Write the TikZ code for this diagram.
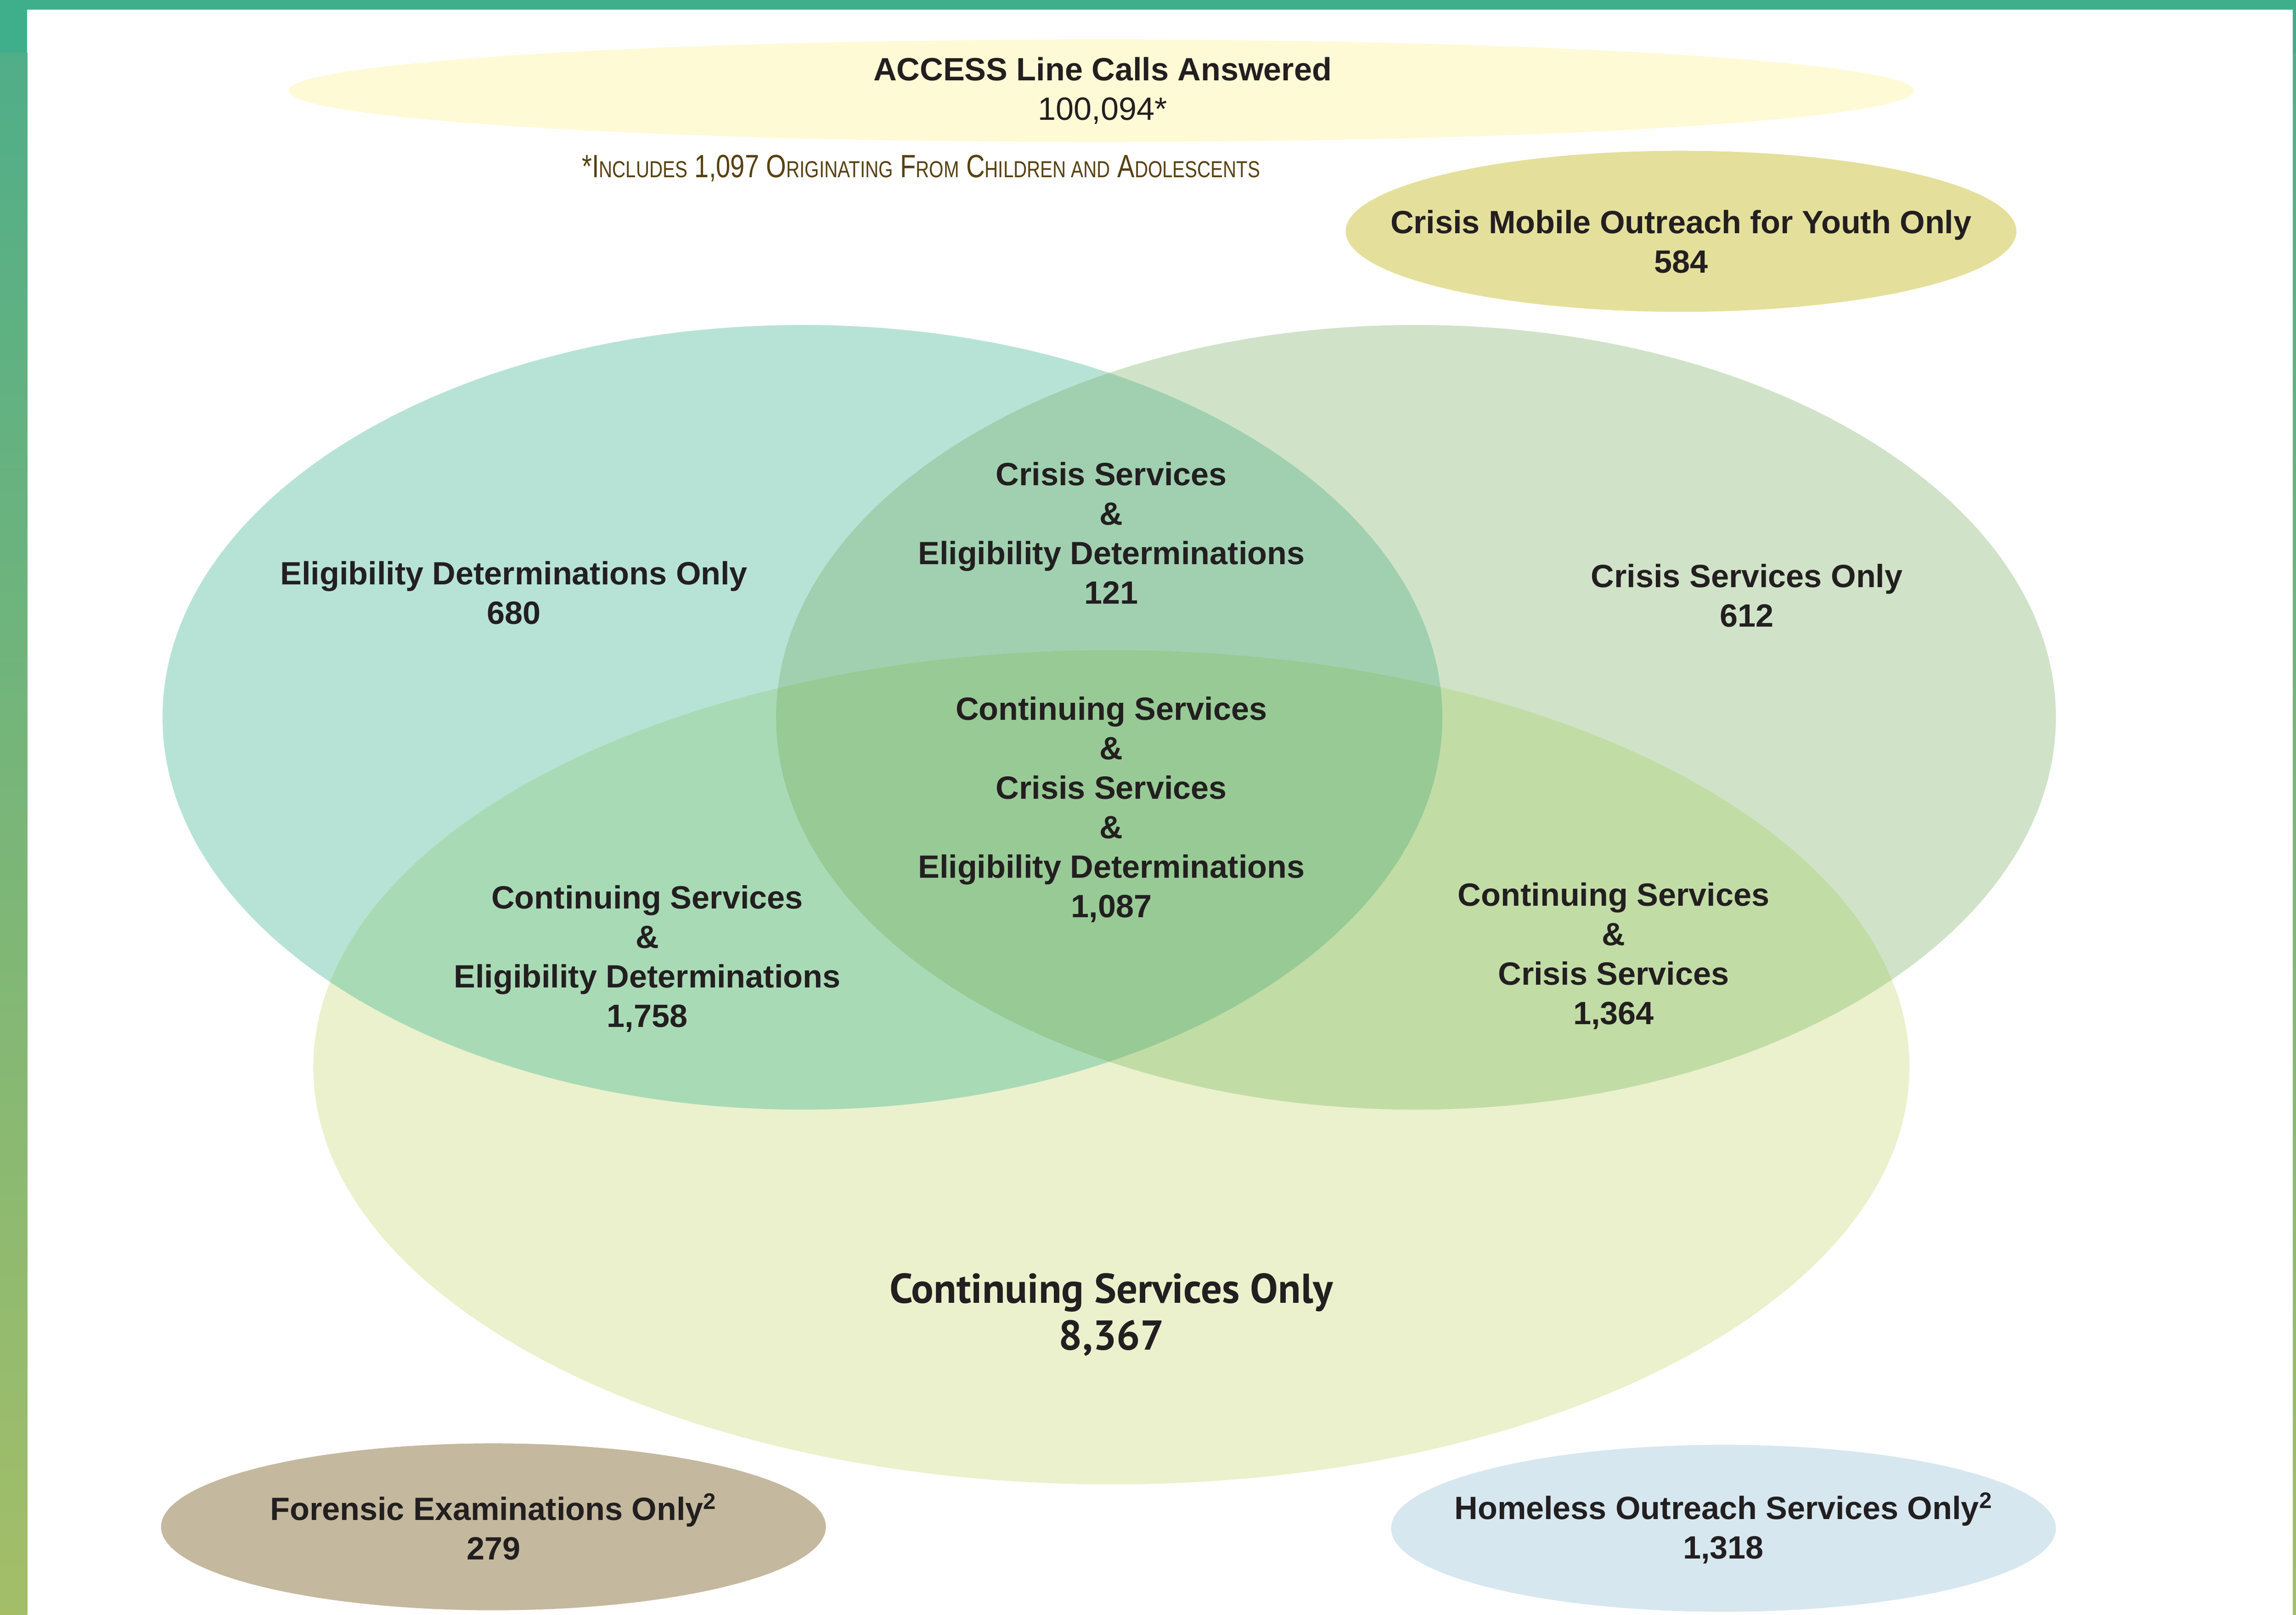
\documentclass[tikz,border=0pt]{standalone}
\usepackage{fontspec}
\setmainfont{Liberation Sans}
\newfontfamily\myriadish{PT Sans}
\newfontfamily\notefont[FakeStretch=0.8]{Liberation Sans}
\usetikzlibrary{positioning}

\definecolor{barTop}{HTML}{3EAE8B}
\definecolor{barMid}{HTML}{50AE88}
\definecolor{barLow}{HTML}{A4BE68}
\definecolor{ink}{HTML}{231F20}
\definecolor{noteInk}{HTML}{574112}
\definecolor{accessCol}{HTML}{FEFAD6}
\definecolor{mobileCol}{HTML}{E4E09C}
\definecolor{forensicCol}{HTML}{C4B89E}
\definecolor{homelessCol}{HTML}{D6E7EF}
\definecolor{eligCol}{HTML}{B7E3D6}
\definecolor{crisCol}{HTML}{D0E3C8}
\definecolor{contCol}{HTML}{EBF1CC}
\definecolor{ecCol}{HTML}{A0D0B0}
\definecolor{ekCol}{HTML}{A9DAB6}
\definecolor{ckCol}{HTML}{C2DCA6}
\definecolor{allCol}{HTML}{98CA96}

\tikzset{
  lbl/.style={font=\fontsize{22}{27}\selectfont\bfseries, align=center, text=ink},
  bigLbl/.style={font=\myriadish\fontsize{28.5}{32}\selectfont\bfseries, align=center, text=ink},
  noteLbl/.style={font=\notefont\fontsize{22}{24}\selectfont, text=noteInk},
}
\newcommand\smcap[1]{{\fontsize{15.8}{16}\selectfont #1}}

\begin{document}
\begin{tikzpicture}[x=1pt, y=-1pt]

  \newcommand\RxA{437pt}
  \newcommand\RyA{268pt}
  \newcommand\RxK{545pt}
  \newcommand\RyK{285pt}

  \useasboundingbox (0,0) rectangle (1568,1103);
  \fill[white] (0,0) rectangle (1568,1103);

  %% frame
  \shade[top color=barMid, bottom color=barLow] (0,36) rectangle (18.6,1103);
  \shade[top color=barMid, bottom color=barLow] (1565.8,36) rectangle (1568,1103);
  \fill[barTop] (0,0) rectangle (1568,6.5);
  \fill[barTop] (0,0) rectangle (18.6,36);
  \fill[barTop] (1565.8,0) rectangle (1568,36);

  %% centres
  \coordinate (eligC) at (548,490);
  \coordinate (crisC) at (967,490);
  \coordinate (contC) at (759,729);

  %% the three sets
  \fill[eligCol] (eligC) ellipse [x radius=\RxA, y radius=\RyA];
  \fill[crisCol] (crisC) ellipse [x radius=\RxA, y radius=\RyA];
  \fill[contCol] (contC) ellipse [x radius=\RxK, y radius=\RyK];
  \begin{scope} % E & C
    \clip (eligC) ellipse [x radius=\RxA, y radius=\RyA];
    \fill[ecCol] (crisC) ellipse [x radius=\RxA, y radius=\RyA];
  \end{scope}
  \begin{scope} % E & K
    \clip (eligC) ellipse [x radius=\RxA, y radius=\RyA];
    \fill[ekCol] (contC) ellipse [x radius=\RxK, y radius=\RyK];
  \end{scope}
  \begin{scope} % C & K
    \clip (crisC) ellipse [x radius=\RxA, y radius=\RyA];
    \fill[ckCol] (contC) ellipse [x radius=\RxK, y radius=\RyK];
  \end{scope}
  \begin{scope} % E & C & K
    \clip (eligC) ellipse [x radius=\RxA, y radius=\RyA];
    \clip (crisC) ellipse [x radius=\RxA, y radius=\RyA];
    \fill[allCol] (contC) ellipse [x radius=\RxK, y radius=\RyK];
  \end{scope}

  %% the other ovals
  \fill[accessCol] (752,62) ellipse [x radius=555pt, y radius=35pt];
  \fill[mobileCol] (1148,158) ellipse [x radius=229pt, y radius=55pt];
  \fill[forensicCol] (337,1043) ellipse [x radius=227pt, y radius=57pt];
  \fill[homelessCol] (1177,1044) ellipse [x radius=227pt, y radius=57pt];

  %% labels
  \node[lbl] (access) at (753,62) {ACCESS Line Calls Answered\\\mdseries 100,094*};
  \node[noteLbl] (note) at (629,115) {*I\smcap{NCLUDES} 1,097 O\smcap{RIGINATING} F\smcap{ROM} C\smcap{HILDREN AND} A\smcap{DOLESCENTS}};
  \node[lbl] (mobile) at (1148,165) {Crisis Mobile Outreach for Youth Only\\584};

  \node[lbl] (eligOnly) at (351,405) {Eligibility Determinations Only\\680};
  \node[lbl] (crisOnly) at (1193,407) {Crisis Services Only\\612};
  \node[lbl] (ecBoth) at (759,364) {Crisis Services\\\&\\Eligibility Determinations\\121};
  \node[lbl] (allThree) at (759,553) {Continuing Services\\\&\\Crisis Services\\\&\\Eligibility Determinations\\1,087};
  \node[lbl] (ekBoth) at (442,655) {Continuing Services\\\&\\Eligibility Determinations\\1,758};
  \node[lbl] (ckBoth) at (1102,653) {Continuing Services\\\&\\Crisis Services\\1,364};
  \node[bigLbl] (contOnly) at (759,898) {Continuing Services Only\\8,367};

  \node[lbl] (forensic) at (337,1043) {Forensic Examinations Only\textsuperscript{2}\\279};
  \node[lbl] (homeless) at (1177,1044) {Homeless Outreach Services Only\textsuperscript{2}\\1,318};

\end{tikzpicture}
\end{document}
